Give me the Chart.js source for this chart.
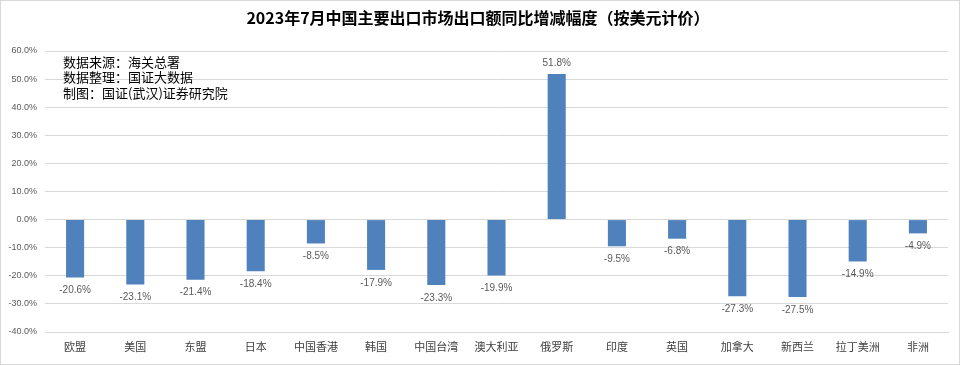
<!DOCTYPE html>
<html>
<head>
<meta charset="utf-8">
<script src="https://cdn.jsdelivr.net/npm/chart.js@4.4.0/dist/chart.umd.min.js"></script>
<style>
  html, body { margin: 0; padding: 0; background: #fff; }
  canvas { display: block; }
</style>
</head>
<body>
<canvas id="c" width="960" height="365"></canvas>
<script>
const markets = ['欧盟', '美国', '东盟', '日本', '中国香港', '韩国', '中国台湾', '澳大利亚',
  '俄罗斯', '印度', '英国', '加拿大', '新西兰', '拉丁美洲', '非洲']
const growth = [-20.6, -23.1, -21.4, -18.4, -8.5, -17.9, -23.3, -19.9,
  51.8, -9.5, -6.8, -27.3, -27.5, -14.9, -4.9]
const titleText = '2023年7月中国主要出口市场出口额同比增减幅度（按美元计价）'
const notes = ['数据来源：海关总署', '数据整理：国证大数据', '制图：国证(武汉)证券研究院']

const cjk = '"Noto Sans CJK SC", "Liberation Sans", sans-serif'

// value labels above / below each bar
const barLabels = {
  id: 'barLabels',
  afterDatasetsDraw(chart) {
    const ctx = chart.ctx
    const meta = chart.getDatasetMeta(0)
    ctx.save()
    ctx.font = '10px "Liberation Sans", sans-serif'
    ctx.fillStyle = '#595959'
    ctx.textAlign = 'center'
    meta.data.forEach((bar, i) => {
      const v = growth[i]
      if (v >= 0) {
        ctx.textBaseline = 'bottom'
        ctx.fillText(v.toFixed(1) + '%', bar.x, bar.y - 6)
      } else {
        ctx.textBaseline = 'top'
        ctx.fillText(v.toFixed(1) + '%', bar.x, bar.y + 8)
      }
    })
    ctx.restore()
  }
}

// source notes and outer frame
const extras = {
  id: 'extras',
  afterDraw(chart) {
    const ctx = chart.ctx
    const a = chart.chartArea
    ctx.save()
    ctx.font = '13px ' + cjk
    ctx.fillStyle = '#000'
    ctx.textBaseline = 'middle'
    notes.forEach((t, i) => ctx.fillText(t, a.left + 18, a.top + 11 + i * 15.5))
    ctx.strokeStyle = '#d9d9d9'
    ctx.lineWidth = 1
    ctx.strokeRect(0.5, 0.5, chart.width - 1, chart.height - 1)
    ctx.restore()
  }
}

new Chart(document.getElementById('c'), {
  type: 'bar',
  data: {
    labels: markets,
    datasets: [{
      data: growth,
      backgroundColor: '#4f81bd',
      barPercentage: 0.6,
      categoryPercentage: 0.5
    }]
  },
  options: {
    responsive: false,
    animation: false,
    layout: { padding: { left: 8, right: 12, top: 0, bottom: 0 } },
    plugins: {
      legend: { display: false },
      tooltip: { enabled: false },
      title: {
        display: true,
        text: titleText,
        color: '#000',
        font: { family: cjk, size: 16, weight: 'bold', lineHeight: 1.2 },
        padding: { top: 8, bottom: 23.8 }
      }
    },
    scales: {
      x: {
        grid: { display: false, drawTicks: false },
        border: { display: true, color: '#d9d9d9' },
        ticks: { color: '#404040', font: { family: cjk, size: 11 }, padding: 8 },
        afterFit(s) { s.height = 33 }
      },
      y: {
        min: -40,
        max: 60,
        grid: { color: '#d9d9d9', drawTicks: false },
        border: { display: false },
        ticks: {
          stepSize: 10,
          color: '#595959',
          font: { family: '"Liberation Sans", sans-serif', size: 9 },
          padding: 8,
          callback: v => v.toFixed(1) + '%'
        },
        afterFit(s) { s.width = 37 }
      }
    }
  },
  plugins: [barLabels, extras]
})
</script>
</body>
</html>
